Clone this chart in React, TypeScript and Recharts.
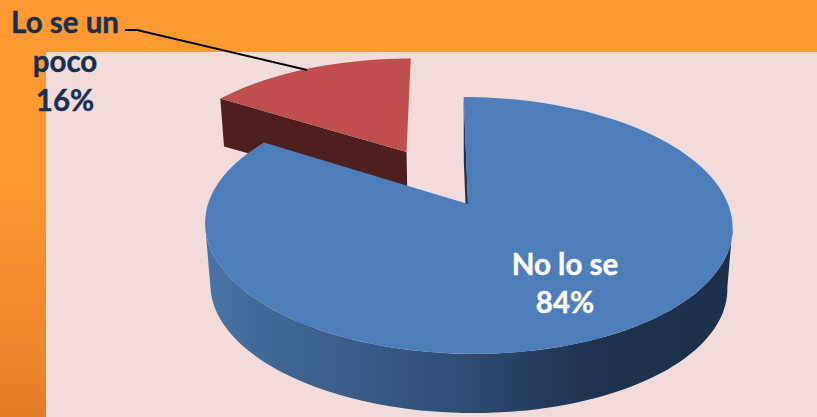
import React from 'react';
import { PieChart, Pie } from 'recharts';

const categories = ['Lo se un poco', 'No lo se'];
const values = [16, 84];
const labelLines = [['Lo se un', 'poco', '16%'], ['No lo se', '84%']];

const topColors = ['#be4f4c', '#4e7eb9'];
const cutColors = ['#4d1f1f', '#1d3150'];
const explode = [0.51, 0]; // pulled out slice, in radius units
const depthScale = [0.75, 1];
const labelAnchors = [{ x: 65, y: 33, dy: 39, fill: '#17304f' }, { x: 565, y: 275, dy: 38, fill: '#ffffff' }];

const tableData = categories.map((name, i) => ({ name, value: values[i] }));

// fake 3D: the flat pie is put through a small perspective
const TILT = 0.48;
const PERSP = 0.167;
const SKEW = -5;
const DEPTH = 61.8;
const SHRINK = 0.02;
const FLATTEN = 0.1;

const RAD = Math.PI / 180;

const project = (p: any, u: number, v: number, h: number) => {
  const w = 1 + PERSP * v;
  return [
    p.cx + ((p.outerRadius * u + SKEW * v) * (1 - SHRINK * h)) / w,
    p.cy + (-p.outerRadius * TILT * v * (1 - FLATTEN * h) + DEPTH * h) / w,
  ];
};

const toPath = (pts: number[][]) => pts.map((q, i) => `${i ? 'L' : 'M'}${q[0].toFixed(1)},${q[1].toFixed(1)}`).join(' ') + ' Z';

const Slice3D = (props: any) => {
  const { startAngle, endAngle, index, midAngle } = props;
  const e = explode[index] || 0;
  const d = depthScale[index];
  const mid = midAngle !== undefined ? midAngle : (startAngle + endAngle) / 2;
  const du = e * Math.cos(mid * RAD);
  const dv = e * Math.sin(mid * RAD);
  const rim = (a: number, h: number) => project(props, du + Math.cos(a * RAD), dv + Math.sin(a * RAD), h * d);
  const apex = (h: number) => project(props, du, dv, h * d);

  const steps = Math.ceil(Math.abs(startAngle - endAngle) / 2);
  const top = [apex(0)];
  for (let i = 0; i <= steps; i++) top.push(rim(startAngle + ((endAngle - startAngle) * i) / steps, 0));

  // outer wall, only the part facing the viewer (between the two side extremes)
  const wallFrom = -170;
  const wallTo = -10;
  const wallTop: number[][] = [];
  const wallBottom: number[][] = [];
  for (let a = wallFrom; a <= wallTo; a += 2) {
    const inSlice = (a <= startAngle && a >= endAngle) || (a + 360 <= startAngle && a + 360 >= endAngle);
    if (!inSlice) continue;
    wallTop.push(rim(a, 0));
    wallBottom.unshift(rim(a, 1));
  }

  const cut = [apex(0), rim(startAngle, 0), rim(startAngle, 1), apex(1)];

  return (
    <g>
      <defs>
        <linearGradient id="wallGrad" gradientUnits="userSpaceOnUse" x1="209" y1="0" x2="729" y2="0">
          <stop offset="0" stopColor="#4a74a6" />
          <stop offset="0.1" stopColor="#426a98" />
          <stop offset="0.48" stopColor="#2e4e75" />
          <stop offset="0.72" stopColor="#1f3450" />
          <stop offset="1" stopColor="#1c304b" />
        </linearGradient>
      </defs>
      {wallTop.length > 0 && <path d={toPath([...wallTop, ...wallBottom])} fill="url(#wallGrad)" />}
      <path d={toPath(cut)} fill={cutColors[index]} />
      <path d={toPath(top)} fill={topColors[index]} />
    </g>
  );
};

const renderLabel = (props: any) => {
  const a = labelAnchors[props.index];
  return (
    <g>
      {props.index === 0 && <polyline points="125,30 137,30 307,70" fill="none" stroke="#000000" strokeWidth={1.8} />}
      {labelLines[props.index].map((line, i) => (
        <text
          key={line}
          x={a.x}
          y={a.y + i * a.dy}
          textAnchor="middle"
          fill={a.fill}
          stroke={a.fill}
          strokeWidth={0.4}
          fontFamily="Lato"
          fontWeight={700}
          fontSize={29.5}
        >
          {line}
        </text>
      ))}
    </g>
  );
};

export default function App() {
  return (
    <div style={{ position: 'absolute', left: 0, top: 0, width: 817, height: 417, overflow: 'hidden', background: '#ff9933' }}>
      <div style={{ position: 'absolute', left: 0, top: 52, width: 46, height: 365, background: 'linear-gradient(#ff9933 0%, #ff9933 35%, #e17f28 100%)' }} />
      <div style={{ position: 'absolute', left: 46, top: 52, width: 771, height: 365, background: '#f2dcdb' }} />
      <div style={{ position: 'absolute', left: 0, top: 0 }}>
        <PieChart width={817} height={417} margin={{ top: 0, right: 0, bottom: 0, left: 0 }}>
          <Pie
            data={tableData}
            dataKey="value"
            nameKey="name"
            cx={468}
            cy={204}
            outerRadius={260}
            startAngle={147.6}
            endAngle={-212.4}
            stroke="none"
            isAnimationActive={false}
            shape={Slice3D}
            label={renderLabel}
            labelLine={false}
          />
        </PieChart>
      </div>
    </div>
  );
}
